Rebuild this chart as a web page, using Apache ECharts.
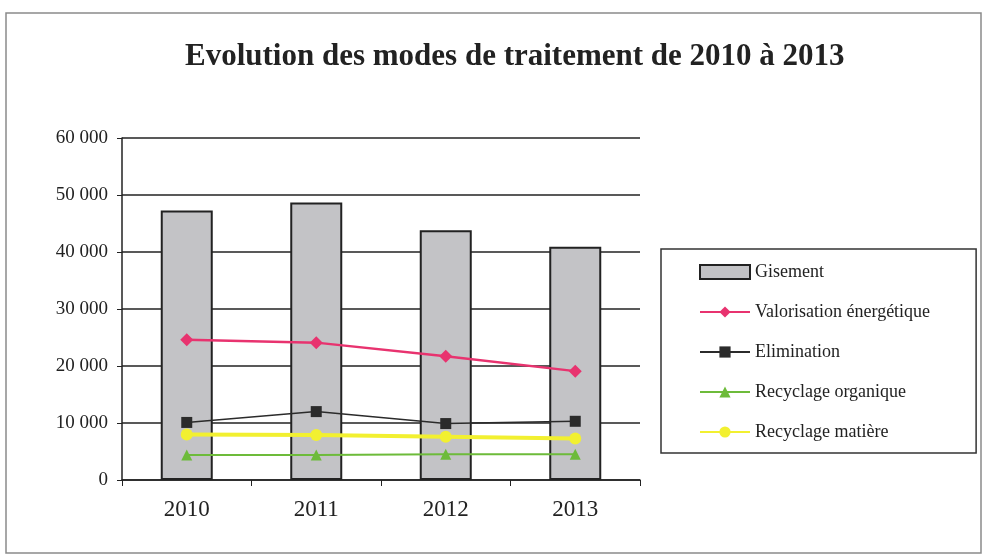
<!DOCTYPE html>
<html>
<head>
<meta charset="utf-8">
<script src="https://cdn.jsdelivr.net/npm/echarts@6/dist/echarts.min.js"></script>
<style>
  html, body { margin: 0; padding: 0; background: #fff; }
  #main { width: 986px; height: 559px; }
</style>
</head>
<body>
<div id="main"></div>
<script>
// années
var years = ['2010', '2011', '2012', '2013'];
// tonnages
var gisement = [47300, 48700, 43800, 40900];
var valorisation = [24600, 24100, 21700, 19100];
var elimination = [10100, 12000, 9900, 10300];
var recyclageOrga = [4400, 4400, 4500, 4500];
var recyclageMatiere = [8000, 7900, 7600, 7300];

var serif = 'Liberation Serif';

var dom = document.getElementById('main');
var myChart = echarts.init(dom);

var option = {
    backgroundColor: '#fff',
    animation: false,
    title: {
        text: 'Evolution des modes de traitement de 2010 à 2013',
        left: 180,
        top: 36,
        textStyle: {
            fontFamily: serif,
            fontWeight: 'bold',
            fontSize: 31,
            color: '#222'
        }
    },
    graphic: [
        {
            type: 'rect',
            shape: { x: 6, y: 13, width: 975, height: 540 },
            style: { fill: 'none', stroke: '#8a8a8a', lineWidth: 1.5 },
            silent: true
        }
    ],
    legend: {
        orient: 'vertical',
        left: 661,
        top: 249,
        padding: [14, 46, 12, 38],
        itemWidth: 50,
        itemHeight: 14,
        itemGap: 22,
        borderColor: '#333',
        borderWidth: 1.5,
        textStyle: { fontFamily: serif, fontSize: 18, color: '#222' },
        data: [
            { name: 'Gisement', icon: 'rect' },
            'Valorisation énergétique',
            'Elimination',
            'Recyclage organique',
            'Recyclage matière'
        ]
    },
    grid: {
        left: 122,
        right: 346,
        top: 138,
        bottom: 79,
        containLabel: false
    },
    xAxis: {
        type: 'category',
        data: years,
        boundaryGap: true,
        axisLine: { lineStyle: { color: '#222', width: 1.5 } },
        axisTick: { show: true, length: 6, lineStyle: { color: '#222' } },
        axisLabel: {
            margin: 18,
            fontFamily: serif,
            fontSize: 23,
            color: '#222'
        }
    },
    yAxis: {
        type: 'value',
        min: 0,
        max: 60000,
        interval: 10000,
        axisLine: { show: true, lineStyle: { color: '#222', width: 1.5 } },
        axisTick: { show: true, length: 5, lineStyle: { color: '#222' } },
        splitLine: { lineStyle: { color: '#222', width: 1.5 } },
        axisLabel: {
            margin: 14,
            fontFamily: serif,
            fontSize: 19,
            color: '#222',
            formatter: function (v) {
                return String(v).replace(/\B(?=(\d{3})+(?!\d))/g, ' ');
            }
        }
    },
    series: [
        {
            name: 'Gisement',
            type: 'bar',
            data: gisement,
            barWidth: 52,
            itemStyle: { color: '#c3c3c6', borderColor: '#222', borderWidth: 2 },
            z: 1
        },
        {
            name: 'Valorisation énergétique',
            type: 'line',
            data: valorisation,
            symbol: 'diamond',
            symbolSize: 13,
            lineStyle: { color: '#e8336f', width: 2.5 },
            itemStyle: { color: '#e8336f' }
        },
        {
            name: 'Elimination',
            type: 'line',
            data: elimination,
            symbol: 'rect',
            symbolSize: 11,
            lineStyle: { color: '#2b2b2b', width: 1.5 },
            itemStyle: { color: '#2b2b2b' }
        },
        {
            name: 'Recyclage organique',
            type: 'line',
            data: recyclageOrga,
            symbol: 'triangle',
            symbolSize: 11,
            lineStyle: { color: '#6dbb3a', width: 2 },
            itemStyle: { color: '#6dbb3a' }
        },
        {
            name: 'Recyclage matière',
            type: 'line',
            data: recyclageMatiere,
            symbol: 'circle',
            symbolSize: 12,
            lineStyle: { color: '#f2f030', width: 4 },
            itemStyle: { color: '#f2f030' }
        }
    ]
};

if (option && typeof option === 'object') {
    myChart.setOption(option, true);
}
</script>
</body>
</html>
